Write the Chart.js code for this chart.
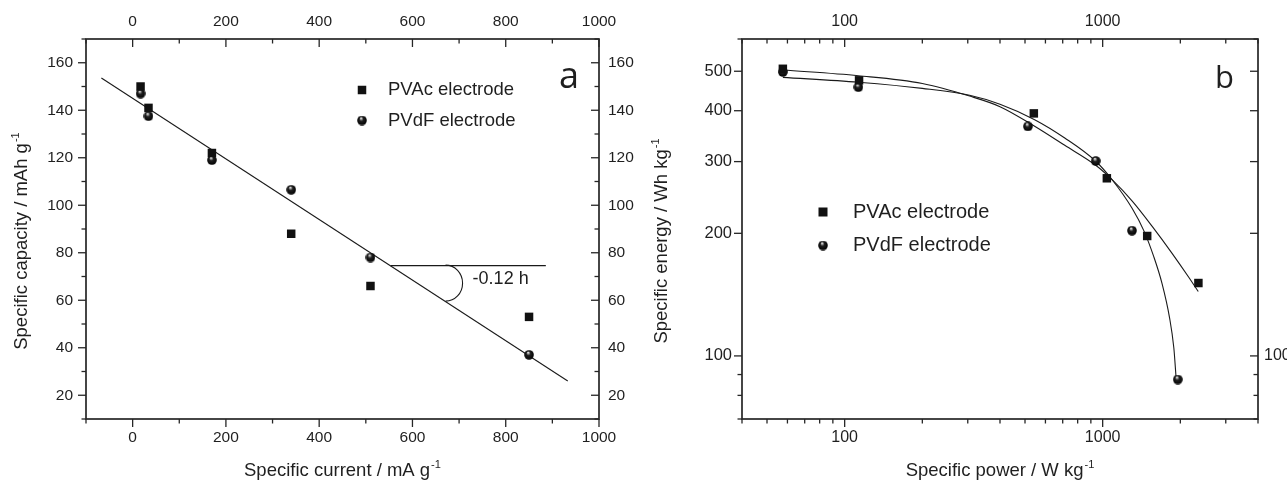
<!DOCTYPE html>
<html>
<head>
<meta charset="utf-8">
<script src="https://cdn.jsdelivr.net/npm/chart.js@4/dist/chart.umd.min.js"></script>
<style>
html, body { margin: 0; padding: 0; background: #fff; }
#wrap { position: relative; width: 1287px; height: 481px; overflow: hidden; }
canvas { position: absolute; top: 0; }
#chartA { left: 0; }
#chartB { left: 640px; }
</style>
</head>
<body>
<div id="wrap">
  <canvas id="chartA" width="640" height="481"></canvas>
  <canvas id="chartB" width="647" height="481"></canvas>
</div>
<script>
// painel a - capacidade especifica x corrente especifica
const currentA = [17, 34, 170, 340, 510, 850];
const capPVAc = [150, 141, 122, 88, 66, 53];
const capPVdF = [147, 137.5, 119, 106.5, 78, 37];
const fitLineX = [-67, 933];
const fitLineY = [153.6, 26];
const slopeRefX = [553, 886];
const slopeRefY = [74.6, 74.6];
const slopeText = '-0.12 h';

const ticksAx = [-100, 0, 100, 200, 300, 400, 500, 600, 700, 800, 900, 1000];
const labelsAx = [0, 200, 400, 600, 800, 1000];
const ticksAy = [10, 20, 30, 40, 50, 60, 70, 80, 90, 100, 110, 120, 130, 140, 150, 160, 170];
const labelsAy = [20, 40, 60, 80, 100, 120, 140, 160];

// painel b - Ragone (energia x potencia)
const powerPVAc = [57.6, 113.7, 541, 1038, 1488, 2350];
const energyPVAc = [507, 475, 394, 273, 197, 151];
const powerPVdF = [57.6, 113, 513, 940, 1299, 1955];
const energyPVdF = [498, 457, 366, 301, 203, 87.5];
const fitPVAcX = [57.6, 113, 200, 305, 400, 545, 713, 940, 1090, 1302, 1556, 1858, 2156, 2347];
const fitPVAcY = [503.5, 487.5, 466.7, 434.5, 409.3, 366.4, 328.9, 293.8, 270.4, 239.9, 208, 178.6, 156, 143.9];
const fitPVdFX = [57.6, 113, 200, 305, 400, 545, 713, 940, 1090, 1302, 1445, 1579, 1700, 1816, 1887, 1926];
const fitPVdFY = [483.1, 469.9, 453.9, 436.5, 415, 380.2, 342.8, 300.6, 270.4, 230.1, 202.8, 175, 150.3, 124.2, 104.7, 88.3];

const ticksBx = [40, 50, 60, 70, 80, 90, 100, 200, 300, 400, 500, 600, 700, 800, 900, 1000, 2000, 3000, 4000];
const labelsBx = [100, 1000];
const ticksBy = [70, 80, 90, 100, 200, 300, 400, 500, 600];
const labelsBy = [100, 200, 300, 400, 500];
const labelsBy2 = [100];

const seriesNames = ['PVAc electrode', 'PVdF electrode'];

const FONT = '"Liberation Sans", Arial, Helvetica, sans-serif';
const TXT = '#1f1f1f';
const LINE = '#262626';

function pts(xs, ys) {
    return xs.map((x, i) => ({ x: x, y: ys[i] }));
}

// bolinha com brilho (simbolo do PVdF)
function makeBall(d) {
    const c = document.createElement('canvas');
    c.width = c.height = d;
    const g = c.getContext('2d');
    const r = d / 2;
    const grad = g.createRadialGradient(r * 0.8, r * 0.5, 0.2, r, r, r);
    grad.addColorStop(0, '#ffffff');
    grad.addColorStop(0.16, '#a0a0a0');
    grad.addColorStop(0.4, '#202020');
    grad.addColorStop(1, '#000000');
    g.fillStyle = grad;
    g.beginPath();
    g.arc(r, r, r - 0.2, 0, Math.PI * 2);
    g.fill();
    return c;
}
const ball = makeBall(10);

function eixo(type, pos, min, max, ticks, labels, pad, size, fontSize) {
    return {
        type: type,
        position: pos,
        min: min,
        max: max,
        afterBuildTicks: s => { s.ticks = ticks.map(v => ({ value: v })); },
        afterFit: s => {
            if (pos === 'left' || pos === 'right') s.width = size;
            else s.height = size;
        },
        grid: { display: false, drawTicks: false },
        border: { display: false },
        ticks: {
            autoSkip: false,
            maxRotation: 0,
            padding: pad,
            color: TXT,
            font: { family: FONT, size: fontSize },
            callback: v => labels.includes(v) ? String(v) : ''
        }
    };
}

function drawTitle(ctx, x, y, rot, main, sup, size) {
    ctx.save();
    ctx.translate(x, y);
    ctx.rotate(rot);
    ctx.fillStyle = TXT;
    ctx.textAlign = 'left';
    ctx.textBaseline = 'alphabetic';
    const f1 = size + 'px ' + FONT;
    const f2 = (size * 0.6) + 'px ' + FONT;
    ctx.font = f1;
    const w1 = ctx.measureText(main).width;
    ctx.font = f2;
    const w2 = ctx.measureText(sup).width;
    const start = -(w1 + w2 + 1) / 2;
    ctx.font = f1;
    ctx.fillText(main, start, 0);
    ctx.font = f2;
    ctx.fillText(sup, start + w1 + 1, -size * 0.42);
    ctx.restore();
}

function decor(cfg) {
    return {
        id: 'decor',
        afterDraw(chart) {
            const ctx = chart.ctx, a = chart.chartArea;
            ctx.save();
            // moldura
            ctx.strokeStyle = LINE;
            ctx.lineWidth = 1.7;
            ctx.strokeRect(a.left, a.top, a.right - a.left, a.bottom - a.top);
            // marcas dos eixos
            ctx.lineWidth = 1.3;
            cfg.marks.forEach(m => {
                const s = chart.scales[m.id];
                m.ticks.forEach(v => {
                    const p = s.getPixelForValue(v);
                    const len = m.major.includes(v) ? 8 : 4.5;
                    ctx.beginPath();
                    if (m.side === 'bottom') { ctx.moveTo(p, a.bottom); ctx.lineTo(p, a.bottom + len); }
                    if (m.side === 'top') { ctx.moveTo(p, a.top); ctx.lineTo(p, a.top + len); }
                    if (m.side === 'left') { ctx.moveTo(a.left, p); ctx.lineTo(a.left - len, p); }
                    if (m.side === 'right') { ctx.moveTo(a.right, p); ctx.lineTo(a.right - len, p); }
                    ctx.stroke();
                });
            });
            // legenda
            const lg = cfg.legend;
            ctx.fillStyle = '#111';
            ctx.fillRect(lg.x - lg.box / 2, lg.y[0] - lg.box / 2, lg.box, lg.box);
            ctx.drawImage(ball, lg.x - ball.width / 2, lg.y[1] - ball.height / 2);
            ctx.fillStyle = TXT;
            ctx.font = lg.size + 'px ' + FONT;
            ctx.textAlign = 'left';
            ctx.textBaseline = 'middle';
            ctx.fillText(seriesNames[0], lg.textX, lg.y[0]);
            ctx.fillText(seriesNames[1], lg.textX, lg.y[1]);
            // letra do painel
            ctx.font = cfg.tag.size + 'px "Open Sans", ' + FONT;
            ctx.textBaseline = 'alphabetic';
            ctx.fillText(cfg.tag.text, a.right - cfg.tag.dx, a.top + cfg.tag.dy);
            // titulos dos eixos
            drawTitle(ctx, (a.left + a.right) / 2, 476, 0, cfg.xTitle[0], cfg.xTitle[1], 18.5);
            drawTitle(ctx, 27, (a.top + a.bottom) / 2 + 12, -Math.PI / 2, cfg.yTitle[0], cfg.yTitle[1], 18.5);
            if (cfg.extra) cfg.extra(chart, ctx);
            ctx.restore();
        }
    };
}

const markerSet = (names) => [
    { label: names[0], pointStyle: 'rect', pointRadius: 6, pointBackgroundColor: '#111', pointBorderWidth: 0, showLine: false },
    { label: names[1], pointStyle: ball, pointRadius: 5, showLine: false }
];
const lineStyle = { showLine: true, pointRadius: 0, pointHoverRadius: 0, borderColor: '#1a1a1a', borderWidth: 1.1, fill: false };

// ---------- grafico a ----------
const mA = markerSet(seriesNames);
new Chart(document.getElementById('chartA'), {
    type: 'scatter',
    data: {
        datasets: [
            Object.assign({}, mA[0], { data: pts(currentA, capPVAc) }),
            Object.assign({}, mA[1], { data: pts(currentA, capPVdF) }),
            Object.assign({}, lineStyle, { label: 'fit', data: pts(fitLineX, fitLineY) }),
            Object.assign({}, lineStyle, { label: 'ref', data: pts(slopeRefX, slopeRefY) })
        ]
    },
    options: {
        responsive: false,
        animation: false,
        events: [],
        devicePixelRatio: 1,
        layout: { padding: 0 },
        plugins: { legend: { display: false }, tooltip: { enabled: false } },
        scales: {
            x: eixo('linear', 'bottom', -100, 1000, ticksAx, labelsAx, 9, 62, 15.5),
            x2: eixo('linear', 'top', -100, 1000, ticksAx, labelsAx, 8, 39, 15.5),
            y: eixo('linear', 'left', 10, 170, ticksAy, labelsAy, 13, 86, 15.5),
            y2: eixo('linear', 'right', 10, 170, ticksAy, labelsAy, 9, 41, 15.5)
        }
    },
    plugins: [decor({
        marks: [
            { id: 'x', side: 'bottom', ticks: ticksAx, major: labelsAx },
            { id: 'x2', side: 'top', ticks: ticksAx, major: labelsAx },
            { id: 'y', side: 'left', ticks: ticksAy, major: labelsAy },
            { id: 'y2', side: 'right', ticks: ticksAy, major: labelsAy }
        ],
        legend: { x: 362, y: [90, 120.5], textX: 388, size: 18.5, box: 8.5 },
        tag: { text: 'a', dx: 40, dy: 49, size: 36 },
        xTitle: ['Specific current / mA g', '-1'],
        yTitle: ['Specific capacity / mAh g', '-1'],
        extra: (chart, ctx) => {
            const sx = chart.scales.x, sy = chart.scales.y;
            // arco do angulo
            ctx.strokeStyle = '#1a1a1a';
            ctx.lineWidth = 1.1;
            ctx.beginPath();
            ctx.ellipse(sx.getPixelForValue(671), sy.getPixelForValue(67.2), 17, 18, 0, -Math.PI / 2, Math.PI / 2);
            ctx.stroke();
            ctx.fillStyle = TXT;
            ctx.font = '18px ' + FONT;
            ctx.textAlign = 'left';
            ctx.textBaseline = 'middle';
            ctx.fillText(slopeText, sx.getPixelForValue(729), sy.getPixelForValue(68.9));
        }
    })]
});

// ---------- grafico b ----------
const mB = markerSet(seriesNames);
new Chart(document.getElementById('chartB'), {
    type: 'scatter',
    data: {
        datasets: [
            Object.assign({}, mB[0], { data: pts(powerPVAc, energyPVAc) }),
            Object.assign({}, mB[1], { data: pts(powerPVdF, energyPVdF) }),
            Object.assign({}, lineStyle, { label: 'fit PVAc', data: pts(fitPVAcX, fitPVAcY), cubicInterpolationMode: 'monotone' }),
            Object.assign({}, lineStyle, { label: 'fit PVdF', data: pts(fitPVdFX, fitPVdFY), cubicInterpolationMode: 'monotone' })
        ]
    },
    options: {
        responsive: false,
        animation: false,
        events: [],
        devicePixelRatio: 1,
        layout: { padding: 0 },
        plugins: { legend: { display: false }, tooltip: { enabled: false } },
        scales: {
            x: eixo('logarithmic', 'bottom', 40, 4000, ticksBx, labelsBx, 9, 62, 16),
            x2: eixo('logarithmic', 'top', 40, 4000, ticksBx, labelsBx, 8, 39, 16),
            y: eixo('logarithmic', 'left', 70, 600, ticksBy, labelsBy, 10, 102, 16.5),
            y2: eixo('logarithmic', 'right', 70, 600, ticksBy, labelsBy2, 6, 29, 16)
        }
    },
    plugins: [decor({
        marks: [
            { id: 'x', side: 'bottom', ticks: ticksBx, major: labelsBx },
            { id: 'x2', side: 'top', ticks: ticksBx, major: labelsBx },
            { id: 'y', side: 'left', ticks: ticksBy, major: labelsBy },
            { id: 'y2', side: 'right', ticks: ticksBy, major: labelsBy }
        ],
        legend: { x: 183, y: [212, 245.5], textX: 213, size: 20, box: 9 },
        tag: { text: 'b', dx: 43, dy: 49, size: 31 },
        xTitle: ['Specific power / W kg', '-1'],
        yTitle: ['Specific energy / Wh kg', '-1']
    })]
});
</script>
</body>
</html>
